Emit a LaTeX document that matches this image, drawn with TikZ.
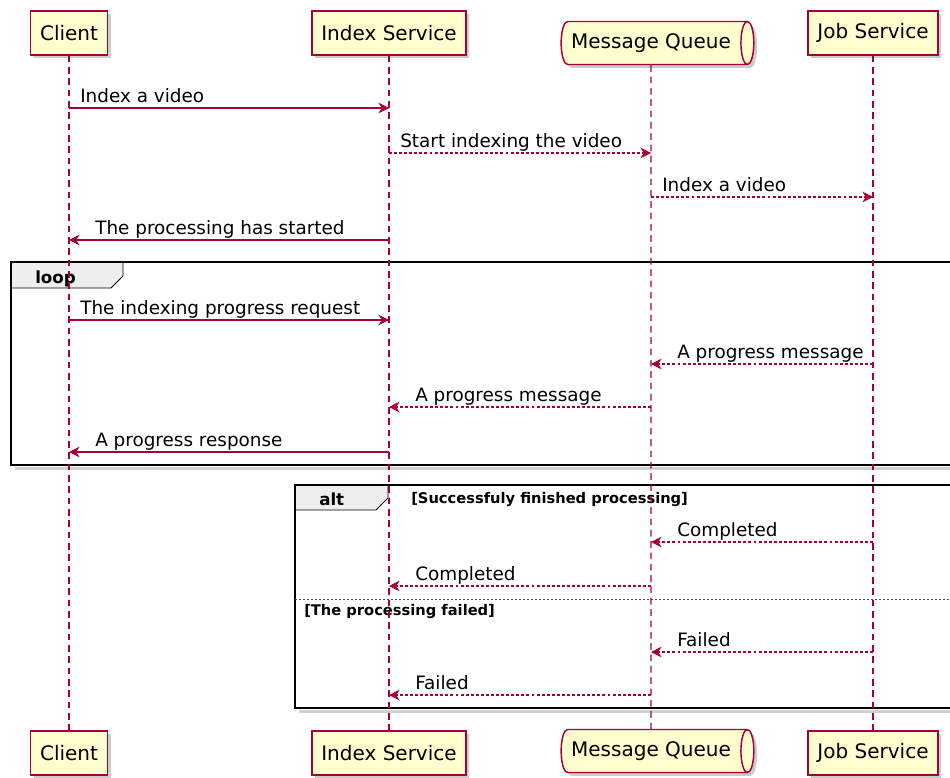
\documentclass[tikz,border=0pt]{standalone}
\usepackage{fontspec}
\setmainfont{DejaVu Sans}
\usetikzlibrary{arrows.meta,shapes.geometric,shadows}
\definecolor{border}{RGB}{168,0,54}
\definecolor{box}{RGB}{254,254,206}
\definecolor{tab}{RGB}{238,238,238}
% message to the right: label starts after the source lifeline
\newcommand{\msgr}[5]{\draw[#1] (#2 |- 0,#4) -- (#3 |- 0,#4);
  \path (#2 |- 0,#4) ++(11,-6) node[msgtext] {#5};}
% message to the left: label starts after the arrow tip
\newcommand{\msgl}[5]{\draw[#1] (#2 |- 0,#4) -- (#3 |- 0,#4);
  \path (#3 |- 0,#4) ++(26,-6) node[msgtext] {#5};}
\tikzset{
  head/.style={draw=border, fill=box, line width=1.1pt, minimum height=33pt, inner xsep=7pt,
    font=\fontsize{15}{18}\selectfont,
    drop shadow={shadow xshift=2.5pt, shadow yshift=-2.5pt, fill=black, opacity=0.2}},
  queue/.style={head, cylinder, shape aspect=0.3, minimum height=30pt, inner xsep=7pt, inner ysep=9pt},
  lifeline/.style={draw=border, line width=0.8pt, dash pattern=on 5pt off 3.5pt},
  call/.style={draw=border, line width=0.8pt, -{Stealth[length=8pt,width=8pt,inset=2.7pt]}},
  reply/.style={call, dash pattern=on 2.2pt off 1.6pt},
  msgtext/.style={anchor=base west, inner sep=0pt, font=\fontsize{13.8}{16}\selectfont},
  frame/.style={draw=black, line width=1.9pt},
  tabbox/.style={draw=black, fill=tab, line width=0.6pt},
  fade/.style={draw=black!18, line width=2.5pt},
  guard/.style={anchor=base west, inner sep=0pt, font=\bfseries\fontsize{11}{13}\selectfont}
}
\begin{document}
\begin{tikzpicture}[x=0.75pt, y=-0.75pt]
\useasboundingbox (0,0) rectangle (950,778);
\clip (0,0) rectangle (950,778);
% participants
\node[head] (cliTop) at (69,33) {Client};
\node[head] (idxTop) at (389,33) {Index Service};
\node[queue] (mqTop) at (651,43) {Message Queue};
\node[head] (jobTop) at (873,33) {Job Service};
\node[head] (cliBot) at (69,753) {Client};
\node[head] (idxBot) at (389,753) {Index Service};
\node[queue] (mqBot) at (651,751) {Message Queue};
\node[head] (jobBot) at (873,753) {Job Service};
% loop frame
\draw[fade] (15,468.5) -- (962,468.5);
\filldraw[tabbox] (11,262) -- (123,262) -- (123,276) -- (111,288) -- (11,288) -- cycle;
\draw[frame] (11,262) rectangle (962,465);
\node[anchor=base west, inner sep=0pt, font=\bfseries\fontsize{12.5}{14}\selectfont] (loopLbl) at (35,283) {loop};
% alt frame
\draw[fade] (299,711.5) -- (962,711.5);
\filldraw[tabbox] (295,485) -- (388,485) -- (388,498) -- (376,510) -- (295,510) -- cycle;
\draw[frame] (295,485) rectangle (962,708);
\node[anchor=base west, inner sep=0pt, font=\bfseries\fontsize{12.5}{14}\selectfont] (altLbl) at (319,505) {alt};
\node[guard] (okGuard) at (411,503) {[Successfuly finished processing]};
\draw[black!70, line width=0.75pt, dash pattern=on 1.5pt off 1.5pt] (295,599) -- (962,599);
\node[guard] (failGuard) at (304,615) {[The processing failed]};
% lifelines
\foreach \p in {cli,idx,mq,job}
  \draw[lifeline] (\p Top) -- (\p Bot);
% messages
\msgr{call}{cliTop}{idxTop}{108}{Index a video}
\msgr{reply}{idxTop}{mqTop}{153}{Start indexing the video}
\msgr{reply}{mqTop}{jobTop}{197}{Index a video}
\msgl{call}{idxTop}{cliTop}{240}{The processing has started}
\msgr{call}{cliTop}{idxTop}{320}{The indexing progress request}
\msgl{reply}{jobTop}{mqTop}{364}{A progress message}
\msgl{reply}{mqTop}{idxTop}{407}{A progress message}
\msgl{call}{idxTop}{cliTop}{452}{A progress response}
\msgl{reply}{jobTop}{mqTop}{542}{Completed}
\msgl{reply}{mqTop}{idxTop}{586}{Completed}
\msgl{reply}{jobTop}{mqTop}{652}{Failed}
\msgl{reply}{mqTop}{idxTop}{695}{Failed}
\end{tikzpicture}
\end{document}
